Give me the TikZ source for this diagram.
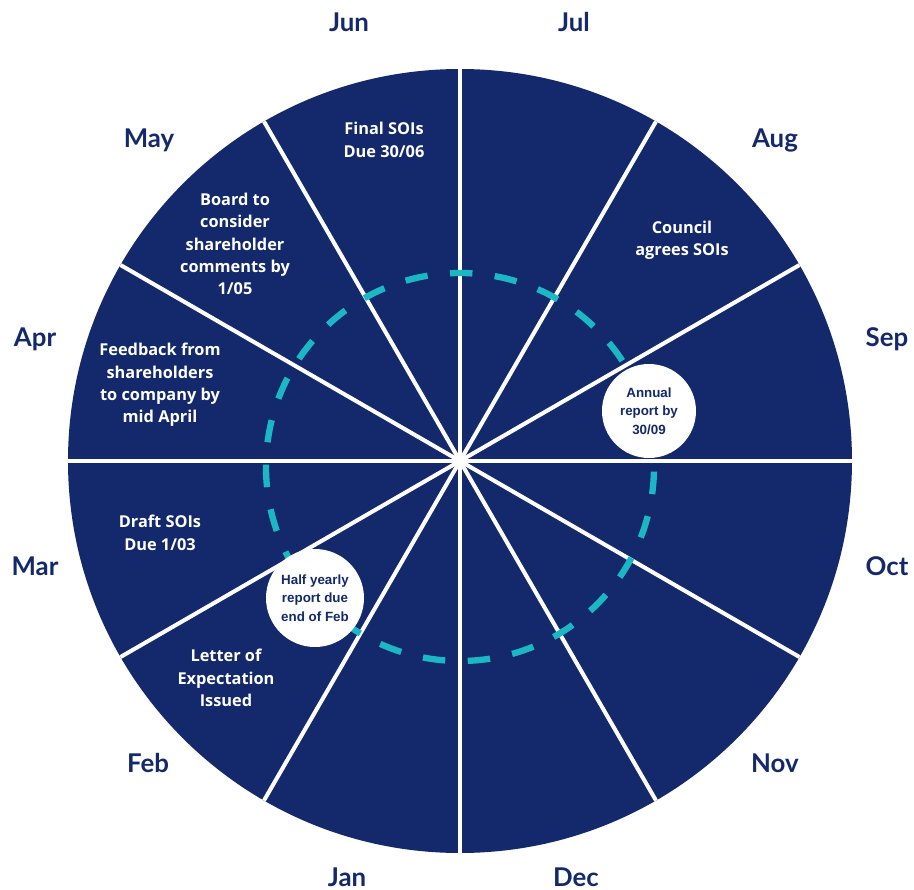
\documentclass[tikz,border=0pt]{standalone}
\usepackage{fontspec}
\newfontfamily\monthfont{Lato}
\newfontfamily\notefont{Open Sans}
\newfontfamily\badgefont{Liberation Sans}
\definecolor{navy}{RGB}{19,41,107}
\definecolor{ringcyan}{RGB}{28,183,196}
\tikzset{
  month/.style={text=navy,inner sep=0pt,text height=10.5pt,text depth=0pt,
    font=\monthfont\bfseries\fontsize{14.7}{16}\selectfont},
  note/.style={text=white,align=center,inner sep=0pt,
    font=\notefont\bfseries\fontsize{9.3}{12.75}\selectfont},
  badge/.style={circle,fill=white,text=navy,align=center,inner sep=0pt,
    font=\badgefont\bfseries\fontsize{7.6}{10.5}\selectfont},
  divider/.style={white,line width=2.3pt},
}
\begin{document}
\begin{tikzpicture}[x=0.02cm,y=0.02cm]
  \useasboundingbox (-460,-429) rectangle (454,461);
  \coordinate (hub) at (0,0);
  \fill[navy] (hub) circle (392);
  % twelve months
  \draw[divider] (0:392)--(180:392);
  \draw[divider] (30:392)--(210:392);
  \draw[divider] (60:392)--(240:392);
  \draw[divider] (90:392)--(270:392);
  \draw[divider] (120:392)--(300:392);
  \draw[divider] (150:392)--(330:392);
  \draw[ringcyan,line width=3.6pt,dash pattern=on 12.8pt off 12.8pt,dash phase=12.8pt] (0,-6) circle (194);
  \node[badge,minimum size=1.88cm] (annual) at (189,50) {Annual\\report by\\30/09};
  \node[badge,minimum size=1.96cm] (halfyear) at (-145,-137) {Half yearly\\report due\\end of Feb};
  \node[note] (final) at (-76,321) {Final SOIs\\Due 30/06};
  \node[note] (council) at (222,221) {Council\\agrees SOIs};
  \node[note] (board) at (-225,217) {Board to\\consider\\shareholder\\comments by\\1/05};
  \node[note] (feedback) at (-300,76) {Feedback from\\shareholders\\to company by\\mid April};
  \node[note] (draft) at (-300,-72) {Draft SOIs\\Due 1/03};
  \node[note] (letter) at (-234,-217) {Letter of\\Expectation\\Issued};
  \node[month] (jun) at (-111,439) {Jun};
  \node[month] (jul) at (114,439) {Jul};
  \node[month] (aug) at (315,323) {Aug};
  \node[month] (sep) at (427,124) {Sep};
  \node[month] (oct) at (427,-105) {Oct};
  \node[month] (nov) at (315,-302) {Nov};
  \node[month] (dec) at (116,-416) {Dec};
  \node[month] (jan) at (-113,-416) {Jan};
  \node[month] (feb) at (-312,-302) {Feb};
  \node[month] (mar) at (-425,-105) {Mar};
  \node[month] (apr) at (-425,124) {Apr};
  \node[month] (may) at (-311,323) {May};
\end{tikzpicture}
\end{document}
